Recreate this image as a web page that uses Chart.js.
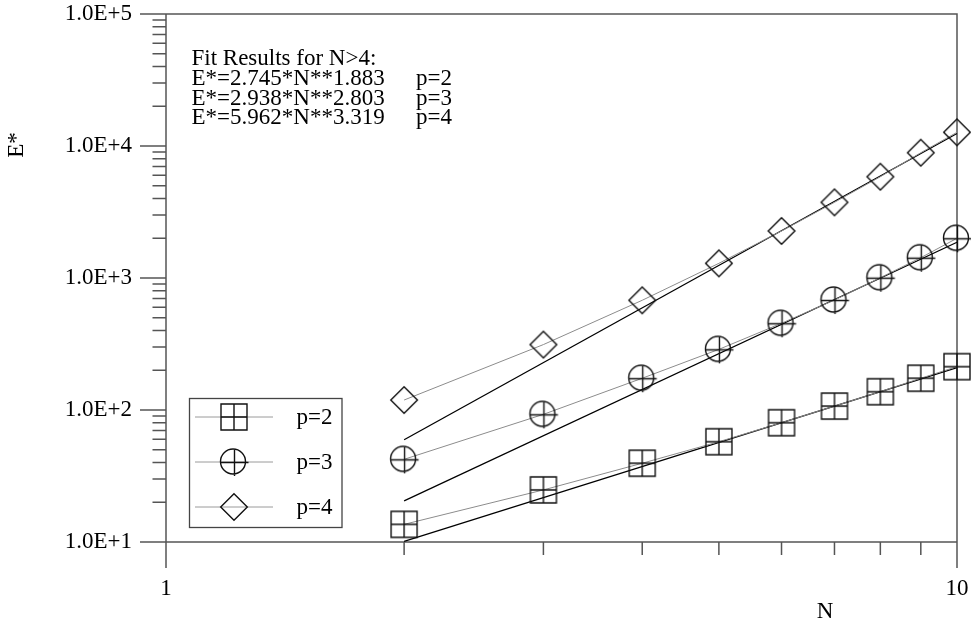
<!DOCTYPE html>
<html>
<head>
<meta charset="utf-8">
<script src="https://cdn.jsdelivr.net/npm/chart.js@4/dist/chart.umd.min.js"></script>
<style>
  html, body { margin: 0; padding: 0; background: #fff; }
  #wrap { width: 971px; height: 624px; }
</style>
</head>
<body>
<div id="wrap"><canvas id="c" width="971" height="624"></canvas></div>
<script>
// Number of sites N and the measured energies E* for each order p
const N = [2, 3, 4, 5, 6, 7, 8, 9, 10];
const energyP2 = [13.6, 24.8, 39.5, 57.5, 80.1, 107, 137.6, 174, 213];
const energyP3 = [42.3, 92.7, 174, 288, 454, 681, 1005, 1425, 2000];
const energyP4 = [119, 313, 678, 1292, 2271, 3744, 5850, 8895, 12700];

// Power-law fits E* = a * N**b
const fitCoef = [2.745, 2.938, 5.962];
const fitExp = [1.883, 2.803, 3.319];
const fitRange = [2, 10];

const seriesNames = ['p=2', 'p=3', 'p=4'];
const fitHeading = 'Fit Results for N>4:';
const fitLabels = ['E*=2.745*N**1.883', 'E*=2.938*N**2.803', 'E*=5.962*N**3.319'];

const xTickValues = [1, 2, 3, 4, 5, 6, 7, 8, 9, 10];
const xTickLabels = { 1: '1', 10: '10' };
const yDecades = [10, 100, 1000, 10000, 100000];
const yTickLabels = { 10: '1.0E+1', 100: '1.0E+2', 1000: '1.0E+3', 10000: '1.0E+4', 100000: '1.0E+5' };

const SERIF = "'Liberation Serif', 'Times New Roman', serif";
const FONT_SIZE = 23;

// Hollow marker glyphs
function makeMarker(kind) {
  const s = 36, c = document.createElement('canvas');
  c.width = s; c.height = s;
  const g = c.getContext('2d');
  const m = s / 2;
  g.strokeStyle = '#111';
  g.lineWidth = 1.4;
  g.beginPath();
  if (kind === 'square') {
    const h = 13;
    g.rect(m - h, m - h, 2 * h, 2 * h);
    g.moveTo(m, m - h); g.lineTo(m, m + h);
    g.moveTo(m - h, m); g.lineTo(m + h, m);
  } else if (kind === 'circle') {
    const r = 12.5;
    g.arc(m - 1, m - 0.5, r, 0, Math.PI * 2);
    g.moveTo(m + 0.5, m - 13); g.lineTo(m + 0.5, m + 14);
    g.moveTo(m - 13, m + 0.5); g.lineTo(m + 14.5, m + 0.5);
  } else {
    const h = 13.3;
    g.moveTo(m, m - h); g.lineTo(m + h, m); g.lineTo(m, m + h); g.lineTo(m - h, m); g.closePath();
  }
  g.stroke();
  return c;
}
const markers = [makeMarker('square'), makeMarker('circle'), makeMarker('diamond')];

const measured = [energyP2, energyP3, energyP4];

const datasets = [];
measured.forEach((vals, i) => {
  datasets.push({
    label: seriesNames[i],
    data: N.map((n, k) => ({ x: n, y: vals[k] })),
    showLine: true,
    borderColor: '#8c8c8c',
    borderWidth: 1,
    pointStyle: markers[i],
    pointRadius: 13,
    pointHoverRadius: 13,
    clip: false,
    order: 1
  });
});
fitCoef.forEach((a, i) => {
  datasets.push({
    label: 'fit ' + seriesNames[i],
    data: fitRange.map(n => ({ x: n, y: a * Math.pow(n, fitExp[i]) })),
    showLine: true,
    borderColor: '#000',
    borderWidth: 1.3,
    pointRadius: 0,
    pointHoverRadius: 0,
    clip: false,
    order: 2
  });
});

// Frame, tick marks, axis titles, legend and fit annotation
const decorations = {
  id: 'decorations',
  beforeDatasetsDraw(chart) {
    const { ctx } = chart;
    const x = chart.scales.x, y = chart.scales.y;
    const L = x.left, R = x.right, T = y.top, B = y.bottom;
    ctx.save();
    ctx.strokeStyle = '#555';
    ctx.lineWidth = 1.5;
    ctx.beginPath();
    ctx.rect(L, T, R - L, B - T);
    // y-axis ticks
    y.ticks.forEach(t => {
      const py = y.getPixelForValue(t.value);
      const major = yDecades.includes(t.value);
      ctx.moveTo(L - (major ? 26 : 13.5), py);
      ctx.lineTo(L, py);
    });
    // x-axis ticks
    x.ticks.forEach(t => {
      const px = x.getPixelForValue(t.value);
      const major = t.value === 1 || t.value === 10;
      ctx.moveTo(px, B);
      ctx.lineTo(px, B + (major ? 26 : 13));
    });
    ctx.stroke();
    ctx.restore();
  },
  afterDraw(chart) {
    const { ctx } = chart;
    ctx.save();
    ctx.fillStyle = '#000';
    ctx.font = FONT_SIZE + 'px ' + SERIF;

    // axis titles
    ctx.textAlign = 'center';
    ctx.textBaseline = 'middle';
    ctx.fillText('N', 825, 612);
    ctx.save();
    ctx.translate(17, 145);
    ctx.rotate(-Math.PI / 2);
    ctx.fillText('E*', 0, 0);
    ctx.restore();

    // fit annotation
    ctx.textAlign = 'left';
    ctx.textBaseline = 'alphabetic';
    ctx.fillText(fitHeading, 191.5, 65);
    fitLabels.forEach((s, i) => {
      const by = 85 + i * 19.5;
      ctx.fillText(s, 191.5, by);
      ctx.fillText(seriesNames[i], 416, by);
    });

    // legend box
    const bx = 189.5, by0 = 398.5, bw = 152.5, bh = 129;
    ctx.strokeStyle = '#444';
    ctx.lineWidth = 1.3;
    ctx.strokeRect(bx, by0, bw, bh);
    seriesNames.forEach((name, i) => {
      const ry = 417 + i * 45;
      ctx.strokeStyle = '#9a9a9a';
      ctx.lineWidth = 1;
      ctx.beginPath();
      ctx.moveTo(195, ry); ctx.lineTo(273, ry);
      ctx.stroke();
      const mk = markers[i];
      ctx.drawImage(mk, 234 - mk.width / 2, ry - mk.height / 2);
      ctx.textBaseline = 'middle';
      ctx.fillText(name, 296.5, ry + 1);
    });
    ctx.restore();
  }
};

new Chart(document.getElementById('c'), {
  type: 'scatter',
  data: { datasets },
  options: {
    responsive: false,
    animation: false,
    events: [],
    layout: { padding: { left: 0, top: 14, right: 13, bottom: 0 } },
    plugins: { legend: { display: false }, tooltip: { enabled: false } },
    scales: {
      x: {
        type: 'logarithmic',
        min: 1, max: 10,
        afterFit(s) { s.height = 82; s.paddingLeft = 0; s.paddingRight = 0; },
        afterBuildTicks(s) { s.ticks = xTickValues.map(v => ({ value: v })); },
        grid: { display: false, drawTicks: false },
        border: { display: false },
        ticks: {
          autoSkip: false, maxRotation: 0, padding: 33,
          color: '#000',
          font: { family: SERIF, size: FONT_SIZE },
          callback: v => xTickLabels[v] || ''
        }
      },
      y: {
        type: 'logarithmic',
        min: 10, max: 100000,
        afterFit(s) { s.width = 166; s.paddingTop = 0; s.paddingBottom = 0; },
        afterBuildTicks(s) {
          const t = [];
          yDecades.forEach(d => {
            if (d === 100000) { t.push({ value: d }); return; }
            for (let k = 1; k <= 9; k++) t.push({ value: d * k });
          });
          s.ticks = t;
        },
        grid: { display: false, drawTicks: false },
        border: { display: false },
        ticks: {
          autoSkip: false, padding: 34,
          color: '#000',
          font: { family: SERIF, size: FONT_SIZE },
          callback: v => yTickLabels[v] || ''
        }
      }
    }
  },
  plugins: [decorations]
});
</script>
</body>
</html>
